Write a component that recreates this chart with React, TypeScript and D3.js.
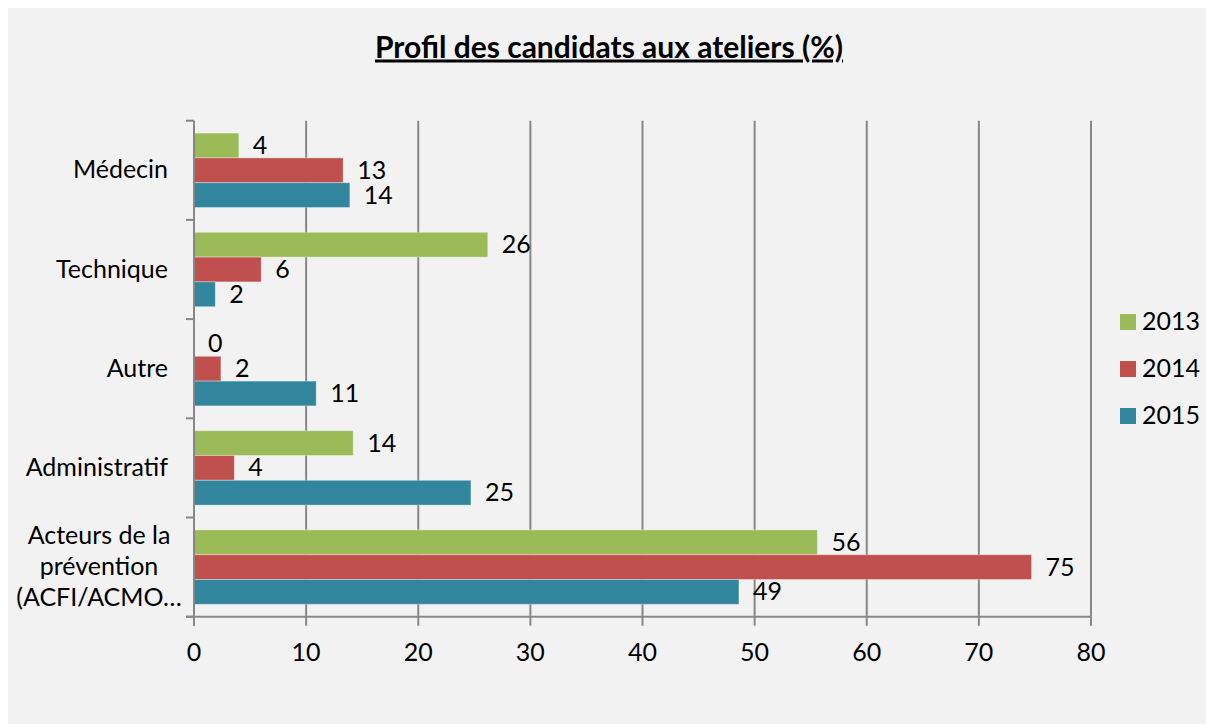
import React from "react";
import * as d3 from "d3";

const categoryLabels: string[][] = [
  ["Médecin"],
  ["Technique"],
  ["Autre"],
  ["Administratif"],
  ["Acteurs de la", "prévention", "(ACFI/ACMO…"],
];
const categories = categoryLabels.map((l) => l.join(" "));
const years = ["2013", "2014", "2015"];
const values2013 = [4.0, 26.2, 0, 14.2, 55.6];
const values2014 = [13.3, 6.0, 2.4, 3.6, 74.7];
const values2015 = [13.9, 1.9, 10.9, 24.7, 48.6];
const seriesValues = [values2013, values2014, values2015];
const xTicks = [0, 10, 20, 30, 40, 50, 60, 70, 80];
const colors = ["#9bbb59", "#c0504d", "#31859c"];
const title = "Profil des candidats aux ateliers (%)";

const W = 1206;
const H = 724;
const FONT = "Lato, 'Liberation Sans', sans-serif";
const GRID = "#878787";

export default function App() {
  const x = d3.scaleLinear().domain([0, 80]).range([194, 1091]);
  const y = d3.scaleBand<string>().domain(categories).range([120.7, 616.7]).paddingInner(0).paddingOuter(0);
  const yInner = d3.scaleBand<string>().domain(years).range([0, y.bandwidth()]).paddingInner(0).paddingOuter(0.5);
  const fmt = d3.format(".0f");
  const boundaries = categories.map((c) => y(c)!).concat([y.range()[1]]);
  const plotTop = y.range()[0];
  const plotBottom = y.range()[1];

  return (
    <svg
      width={W}
      height={H}
      style={{ position: "absolute", left: 0, top: 0, display: "block" }}
      fontFamily={FONT}
    >
      <rect x={0} y={0} width={W} height={H} fill="#ffffff" />
      <rect x={8} y={8} width={W - 8} height={H - 8} fill="#f2f2f2" />
      <text
        x={609}
        y={57.5}
        textAnchor="middle"
        fontWeight="bold"
        fontSize={30}
        textDecoration="underline"
        fill="#000"
      >
        {title}
      </text>
      {/* gridlines */}
      {xTicks.slice(1).map((t) => (
        <line key={"g" + t} x1={x(t)} x2={x(t)} y1={plotTop} y2={plotBottom} stroke={GRID} strokeWidth={2} />
      ))}
      {/* bars */}
      {seriesValues.map((vals, si) =>
        vals.map((v, ci) => {
          const cat = categories[ci];
          const by = y(cat)! + yInner(years[si])!;
          return (
            <rect
              key={`b${si}-${ci}`}
              x={x(0)}
              y={by}
              width={x(v) - x(0)}
              height={yInner.bandwidth()}
              fill={colors[si]}
              stroke="rgba(255,255,255,0.35)"
              strokeWidth={1}
            />
          );
        })
      )}
      {/* value labels */}
      {seriesValues.map((vals, si) =>
        vals.map((v, ci) => {
          const cat = categories[ci];
          const cy = y(cat)! + yInner(years[si])! + yInner.bandwidth() / 2;
          return (
            <text key={`l${si}-${ci}`} x={x(v) + 14} y={cy + 8.5} fontSize={25} fill="#000">
              {fmt(v)}
            </text>
          );
        })
      )}
      {/* axes */}
      <line x1={x(0)} x2={x(0)} y1={plotTop} y2={plotBottom + 9} stroke={GRID} strokeWidth={2} />
      <line x1={x(0) - 8} x2={x(80)} y1={plotBottom} y2={plotBottom} stroke={GRID} strokeWidth={2} />
      {boundaries.map((b, i) => (
        <line key={"yt" + i} x1={x(0) - 8} x2={x(0)} y1={b} y2={b} stroke={GRID} strokeWidth={2} />
      ))}
      {xTicks.map((t) => (
        <line key={"xt" + t} x1={x(t)} x2={x(t)} y1={plotBottom} y2={plotBottom + 9} stroke={GRID} strokeWidth={2} />
      ))}
      {xTicks.map((t) => (
        <text key={"xl" + t} x={x(t)} y={661} textAnchor="middle" fontSize={25} fill="#000">
          {t}
        </text>
      ))}
      {/* category labels */}
      {categoryLabels.map((lines, ci) => {
        const cy = y(categories[ci])! + y.bandwidth() / 2;
        const lh = 31.3;
        const n = lines.length;
        const multi = n > 1;
        const lx = multi ? 99 : 168;
        return (
          <text key={"c" + ci} x={lx} textAnchor={multi ? "middle" : "end"} fontSize={25} fill="#000">
            {lines.map((ln, li) => (
              <tspan key={li} x={lx} y={cy + 8 + (li - (n - 1) / 2) * lh}>
                {ln}
              </tspan>
            ))}
          </text>
        );
      })}
      {/* legend */}
      {years.map((yr, i) => (
        <g key={"lg" + yr} transform={`translate(1120,${314 + i * 47})`}>
          <rect x={0} y={0} width={16} height={16} fill={colors[i]} />
          <text x={22} y={16} fontSize={25} fill="#000">
            {yr}
          </text>
        </g>
      ))}
    </svg>
  );
}
